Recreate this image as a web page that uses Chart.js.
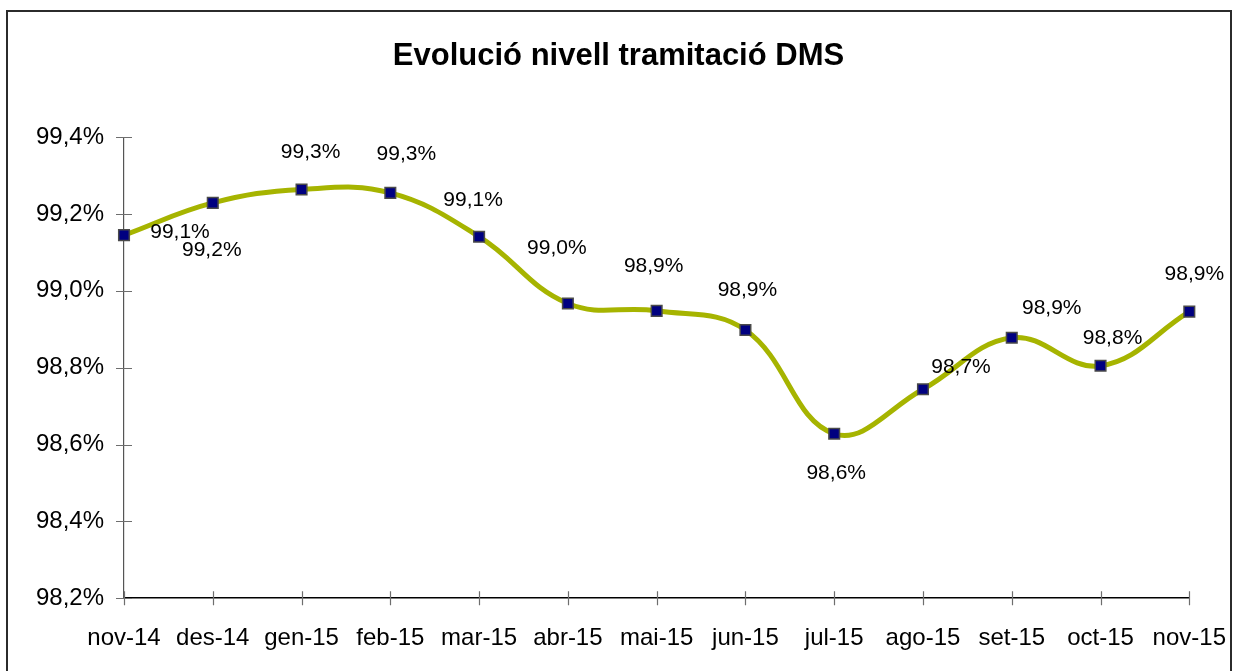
<!DOCTYPE html>
<html>
<head>
<meta charset="utf-8">
<script src="https://cdn.jsdelivr.net/npm/chart.js@4"></script>
<style>
html, body { margin: 0; padding: 0; background: #fff; }
#wrap { width: 1237px; height: 671px; position: relative; }
</style>
</head>
<body>
<div id="wrap"><canvas id="myChart"></canvas></div>
<script>
// months along the x-axis
var months = ['nov-14','des-14','gen-15','feb-15','mar-15','abr-15','mai-15','jun-15','jul-15','ago-15','set-15','oct-15','nov-15'];
// DMS processing level (%)
var nivell = [99.145, 99.229, 99.264, 99.255, 99.141, 98.967, 98.948, 98.898, 98.628, 98.744, 98.878, 98.805, 98.946];
// y-axis range and step
var yMin = 98.2;
var yMax = 99.4;
var yStep = 0.2;

var FONT = "'Liberation Sans', Arial, sans-serif";
Chart.defaults.font.family = FONT;

function pct(v) {
  return v.toFixed(1).replace('.', ',') + '%';
}

// outer frame round the whole picture
var framePlugin = {
  id: 'frame',
  beforeDraw: function (chart) {
    var c = chart.ctx;
    c.save();
    c.fillStyle = '#fff';
    c.fillRect(0, 0, chart.width, chart.height);
    c.restore();
  },
  afterDraw: function (chart) {
    var c = chart.ctx;
    c.save();
    c.strokeStyle = '#2b2b2b';
    c.lineWidth = 2;
    c.strokeRect(7, 11, 1224, 680);
    c.restore();
  }
};

// tick marks that cross the axis lines, Excel style
var crossTicks = {
  id: 'crossTicks',
  afterDraw: function (chart) {
    var c = chart.ctx;
    var xs = chart.scales.x, ys = chart.scales.y;
    var area = chart.chartArea;
    c.save();
    c.strokeStyle = '#6e6e6e';
    c.lineWidth = 1.2;
    c.beginPath();
    for (var i = 0; i < xs.ticks.length; i++) {
      var px = Math.round(xs.getPixelForTick(i)) + 0.5;
      c.moveTo(px, area.bottom - 7);
      c.lineTo(px, area.bottom + 7);
    }
    for (var j = 0; j < ys.ticks.length; j++) {
      var py = Math.round(ys.getPixelForTick(j)) + 0.5;
      c.moveTo(area.left - 8, py);
      c.lineTo(area.left + 8, py);
    }
    c.stroke();
    c.restore();
  }
};

// value labels beside each point, placed by hand as in the original
var valueLabels = {
  id: 'valueLabels',
  shift: [[56,-3],[-1,47],[9,-37],[16,-39],[-6,-36],[-11,-55],[-3,-45],[2,-40],[2,39],[38,-22],[40,-30],[12,-28],[5,-37]],
  afterDatasetsDraw: function (chart) {
    var c = chart.ctx;
    var meta = chart.getDatasetMeta(0);
    var vals = chart.data.datasets[0].data;
    c.save();
    c.font = '21px ' + FONT;
    c.fillStyle = '#000';
    c.textAlign = 'center';
    c.textBaseline = 'middle';
    meta.data.forEach(function (pt, i) {
      var s = valueLabels.shift[i];
      c.fillText(pct(vals[i]), pt.x + s[0], pt.y + s[1]);
    });
    c.restore();
  }
};

var ctx = document.getElementById('myChart');
var myChart = new Chart(ctx, {
  type: 'line',
  data: {
    labels: months,
    datasets: [{
      data: nivell,
      borderColor: '#a6b400',
      borderWidth: 5,
      tension: 0.4,
      fill: false,
      pointStyle: 'rect',
      pointRadius: 7.5,
      pointBackgroundColor: '#000080',
      pointBorderColor: '#4a4a4a',
      pointBorderWidth: 1.5
    }]
  },
  options: {
    responsive: true,
    maintainAspectRatio: false,
    animation: false,
    layout: { padding: { left: 0, right: 0, top: 0, bottom: 7 } },
    plugins: {
      legend: { display: false },
      tooltip: { enabled: false },
      title: {
        display: true,
        text: 'Evolució nivell tramitació DMS',
        color: '#000',
        font: { size: 31, weight: 'bold' },
        padding: { top: 38, bottom: 62 }
      }
    },
    scales: {
      x: {
        offset: false,
        grid: { display: true, drawOnChartArea: false, drawTicks: true, tickLength: 15, color: 'transparent', tickColor: 'transparent' },
        border: { display: true, color: '#000', width: 1.5 },
        ticks: { color: '#000', font: { size: 24 }, padding: 11, autoSkip: false, maxRotation: 0, minRotation: 0 }
      },
      y: {
        min: yMin,
        max: yMax,
        grid: { display: false, drawTicks: false },
        border: { display: true, color: '#555', width: 1.2 },
        ticks: {
          stepSize: yStep,
          color: '#000',
          font: { size: 24 },
          padding: 20,
          callback: function (v) { return pct(v); }
        },
        afterFit: function (scale) { scale.width = 124; }
      }
    }
  },
  plugins: [framePlugin, crossTicks, valueLabels]
});
</script>
</body>
</html>
